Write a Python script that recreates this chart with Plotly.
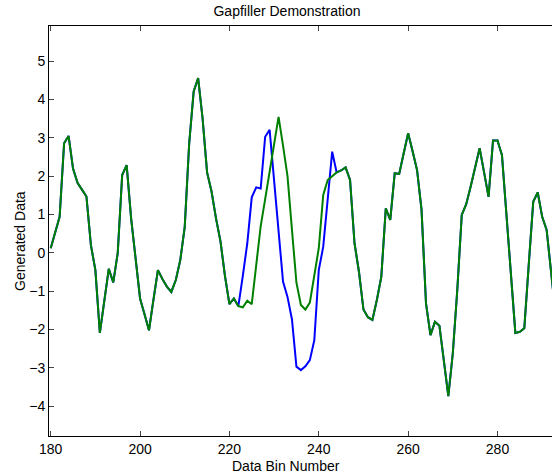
import plotly.graph_objects as go

# Bin numbers
bins = list(range(180, 294))

# Gap-filled series (green)
gapfilled = [
    0.12, 0.52, 0.94, 2.86, 3.05, 2.20, 1.83, 1.65, 1.47, 0.20,   # 180-189
    -0.45, -2.09, -1.25, -0.42, -0.77, -0.01, 2.03, 2.29, 0.90, -0.20,  # 190-199
    -1.19, -1.60, -2.02, -1.22, -0.45, -0.68, -0.88, -1.02, -0.71, -0.19,  # 200-209
    0.68, 2.86, 4.21, 4.56, 3.50, 2.10, 1.60, 0.90, 0.30, -0.60,  # 210-219
    -1.34, -1.19, -1.39, -1.42, -1.25, -1.34, -0.30, 0.70, 1.40, 2.10,  # 220-229
    2.90, 3.55, 2.80, 2.00, 0.60, -0.78, -1.36, -1.48, -1.30, -0.62,  # 230-239
    0.12, 1.51, 1.90, 2.00, 2.10, 2.15, 2.23, 1.90, 0.25, -0.50,  # 240-249
    -1.48, -1.68, -1.75, -1.23, -0.62, 1.16, 0.86, 2.08, 2.06, 2.60,  # 250-259
    3.12, 2.65, 2.16, 1.12, -1.32, -2.15, -1.80, -1.90, -2.80, -3.74,  # 260-269
    -2.62, -0.97, 0.99, 1.27, 1.73, 2.20, 2.73, 2.10, 1.46, 2.93,  # 270-279
    2.93, 2.55, 1.00, -0.55, -2.09, -2.06, -1.97, -0.30, 1.33, 1.58,  # 280-289
    0.94, 0.60, -0.54, -1.60,  # 290-293
]

# Original series (blue) inside the gap region, bins 222-244
gap_bins = list(range(222, 245))
original_gap = [
    -1.39, -0.60, 0.25, 1.45, 1.71, 1.68, 3.03, 3.21, 1.90, 0.60,  # 222-231
    -0.75, -1.15, -1.74, -2.97, -3.06, -2.96, -2.80, -2.28, -0.45, 0.16,  # 232-241
    1.40, 2.64, 2.10,  # 242-244
]

original = list(gapfilled)
for b, v in zip(gap_bins, original_gap):
    original[bins.index(b)] = v

x_ticks = [180, 200, 220, 240, 260, 280]
y_ticks = [-4, -3, -2, -1, 0, 1, 2, 3, 4, 5]

FONT = "Liberation Sans, Arial, Helvetica, sans-serif"
FS = 14

W, H = 552, 475
L, T, B, R = 49, 26, 39, 0
PW, PH = W - L - R, H - T - B

fig = go.Figure()
fig.add_trace(go.Scatter(x=bins, y=original, mode="lines",
                         line=dict(color="#0000ff", width=2), showlegend=False))
fig.add_trace(go.Scatter(x=bins, y=gapfilled, mode="lines",
                         line=dict(color="#008000", width=2), showlegend=False))

fig.update_layout(
    width=W, height=H,
    margin=dict(l=L, r=R, t=T, b=B, autoexpand=False),
    paper_bgcolor="white", plot_bgcolor="white",
    font=dict(family=FONT, size=FS, color="#000000"),
    title=dict(text="Gapfiller Demonstration", x=287 / W, xanchor="center",
               xref="container", y=1 - 11 / H, yanchor="middle", yref="container",
               font=dict(size=FS)),
    xaxis=dict(range=[179.62, 292.2], tickvals=x_ticks, ticks="inside", ticklen=5,
               showline=True, linecolor="black", linewidth=1, mirror="ticks",
               showgrid=False, zeroline=False, tickfont=dict(size=FS),
               automargin=False),
    yaxis=dict(range=[-4.78, 5.92], tickvals=y_ticks, ticks="inside", ticklen=5,
               showline=True, linecolor="black", linewidth=1, mirror=False,
               showgrid=False, zeroline=False, tickfont=dict(size=FS),
               automargin=False),
    annotations=[
        dict(text="Data Bin Number", xref="paper", yref="paper",
             x=(286 - L) / PW, y=-(466 - (T + PH)) / PH,
             xanchor="center", yanchor="middle", showarrow=False),
        dict(text="Generated Data", xref="paper", yref="paper",
             x=-(L - 20) / PW, y=1 - (241 - T) / PH, textangle=-90,
             xanchor="center", yanchor="middle", showarrow=False),
    ],
)

fig.write_html(
    "out.html",
    config={"displayModeBar": False},
    post_script="document.body.style.margin='0';document.body.style.overflow='hidden';",
)
